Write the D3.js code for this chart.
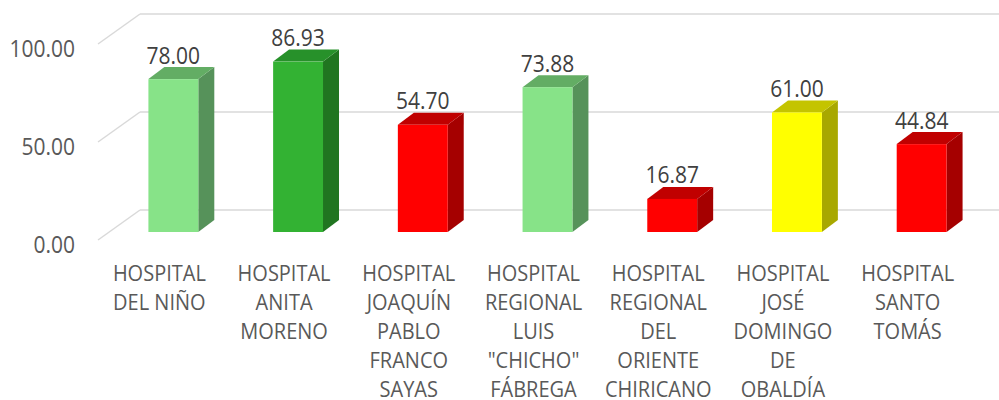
<!DOCTYPE html>
<html>
<head>
<meta charset="utf-8">
<script src="https://cdn.jsdelivr.net/npm/d3@7"></script>
<style>
  body { margin: 0; background: #fff; }
  svg { display: block; font-family: "Open Sans", sans-serif; }
</style>
</head>
<body>
<svg width="999" height="400"></svg>
<script>
const categories = [
  'HOSPITAL DEL NIÑO',
  'HOSPITAL ANITA MORENO',
  'HOSPITAL JOAQUÍN PABLO FRANCO SAYAS',
  'HOSPITAL REGIONAL LUIS "CHICHO" FÁBREGA',
  'HOSPITAL REGIONAL DEL ORIENTE CHIRICANO',
  'HOSPITAL JOSÉ DOMINGO DE OBALDÍA',
  'HOSPITAL SANTO TOMÁS'
];
const values = [78.00, 86.93, 54.70, 73.88, 16.87, 61.00, 44.84];
const colorKeys = ['light', 'green', 'red', 'light', 'red', 'yellow', 'red'];
const yTicks = [0, 50, 100];

// front / side / top shades
const palette = {
  light:  ['#87e388', '#56925a', '#63ad64'],
  green:  ['#33b233', '#207520', '#27912a'],
  red:    ['#ff0000', '#a50000', '#c00000'],
  yellow: ['#ffff00', '#a8a800', '#c4c400']
};

const svg = d3.select('svg');
const stretch = 1.1; // text in the original is a bit taller than Open Sans

const y = d3.scaleLinear().domain([0, 100]).range([232, 36]);
const x = d3.scalePoint().domain(categories).range([111, 984]).padding(0.5);
const barW = x.step() * 0.4;
const dx = 16, dy = 12;            // bar depth
const backOff = -22, frontOff = 8; // wall / floor edges relative to bar plane

function putText(g, px, py, str, size, fill, anchor) {
  return g.append('text')
    .attr('transform', `translate(${px},${py}) scale(1,${stretch})`)
    .attr('text-anchor', anchor || 'middle')
    .attr('dominant-baseline', 'central')
    .attr('fill', fill)
    .style('font-size', size + 'px')
    .text(str);
}

// gridlines on back wall + floor diagonals
const grid = svg.append('g');
yTicks.forEach(t => {
  grid.append('line')
    .attr('x1', 140).attr('x2', 999)
    .attr('y1', y(t) + backOff).attr('y2', y(t) + backOff)
    .attr('stroke', '#d9d9d9').attr('stroke-width', 1.5);
  grid.append('line')
    .attr('x1', 98).attr('x2', 140)
    .attr('y1', y(t) + frontOff).attr('y2', y(t) + backOff)
    .attr('stroke', '#d9d9d9').attr('stroke-width', 1.5);
});

// tick labels
const yAx = svg.append('g');
yTicks.forEach(t => putText(yAx, 75, y(t) + 12, t.toFixed(2), 21, '#595959', 'end'));

// bars
const bars = svg.append('g').selectAll('g')
  .data(categories)
  .enter().append('g');

bars.each(function(c, i) {
  const g = d3.select(this);
  const col = palette[colorKeys[i]];
  const x0 = x(c) - barW / 2, x1 = x(c) + barW / 2;
  const yt = y(values[i]), yb = y(0);
  g.append('path')
    .attr('d', `M${x1},${yt}L${x1 + dx},${yt - dy}L${x1 + dx},${yb - dy}L${x1},${yb}Z`)
    .attr('fill', col[1]);
  g.append('path')
    .attr('d', `M${x0},${yt}L${x0 + dx},${yt - dy}L${x1 + dx},${yt - dy}L${x1},${yt}Z`)
    .attr('fill', col[2]);
  g.append('rect')
    .attr('x', x0).attr('y', yt)
    .attr('width', barW).attr('height', yb - yt)
    .attr('fill', col[0]);
  putText(g, x(c), yt - dy - 13, values[i].toFixed(2), 21, '#404040');
});

// category labels, wrapped
const lab = svg.append('g');
const probe = lab.append('text').style('font-size', '20px');
categories.forEach(c => {
  const lines = [];
  let cur = '';
  c.split(' ').forEach(w => {
    const test = cur ? cur + ' ' + w : w;
    probe.text(test);
    if (cur && probe.node().getComputedTextLength() > 102) {
      lines.push(cur);
      cur = w;
    } else {
      cur = test;
    }
  });
  lines.push(cur);
  lines.forEach((l, k) => putText(lab, x(c) - 14, 273 + k * 29, l, 20, '#595959'));
});
probe.remove();
</script>
</body>
</html>
